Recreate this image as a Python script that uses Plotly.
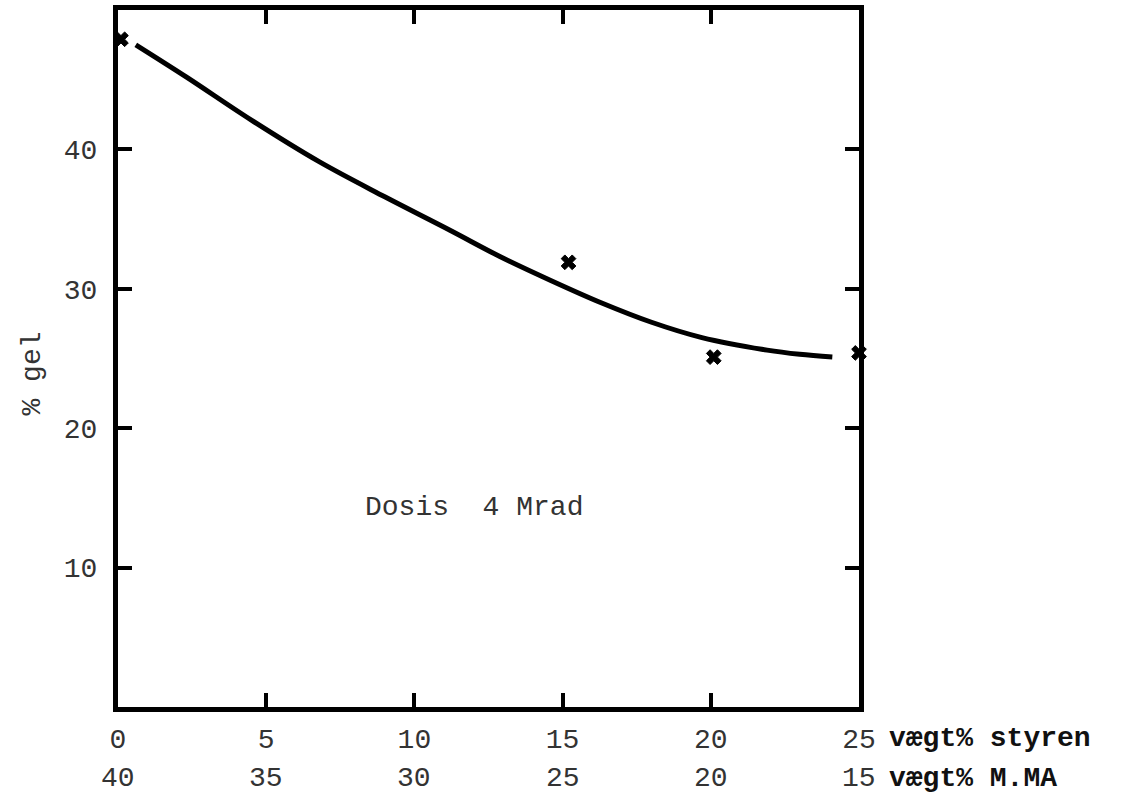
import plotly.graph_objects as go

# measured points (x = wt% styrene, y = % gel)
styren_pts = [0.1, 15.2, 20.1, 25.0]
gel_pts = [47.9, 31.9, 25.1, 25.4]

# hand-drawn curve
curve_x = [0.6, 2.3, 4.5, 6.8, 9.0, 11.2, 12.9, 14.6, 16.3, 18.0, 19.7, 21.9, 23.0, 24.1]
curve_y = [47.5, 45.2, 42.1, 39.1, 36.6, 34.2, 32.3, 30.6, 29.0, 27.6, 26.5, 25.6, 25.3, 25.1]

styren_ticks = [0, 5, 10, 15, 20, 25]
mma_labels = ["40", "35", "30", "25", "20", "15"]
gel_ticks = [10, 20, 30, 40]

FONT = "Liberation Mono"
INK = "#111111"
GREY = "#333333"
FS = 28

fig = go.Figure()
fig.add_trace(go.Scatter(x=curve_x, y=curve_y, mode="lines",
                         line=dict(color="black", width=5, shape="spline", smoothing=1.0),
                         showlegend=False, hoverinfo="skip"))
fig.add_trace(go.Scatter(x=styren_pts, y=gel_pts, mode="markers",
                         marker=dict(symbol="x", size=13, color="black",
                                     line=dict(width=1, color="black")),
                         showlegend=False, cliponaxis=False))

fig.update_layout(
    width=1131, height=799,
    margin=dict(l=118, r=272, t=10, b=92, autoexpand=False),
    plot_bgcolor="white", paper_bgcolor="white",
    font=dict(family=FONT, size=FS, color=GREY),
    xaxis=dict(range=[0, 25], tickvals=styren_ticks,
               ticktext=[str(v) for v in styren_ticks],
               ticks="inside", ticklen=14, tickwidth=4, tickcolor="black",
               showline=True, linewidth=5, linecolor="black", mirror="ticks",
               showgrid=False, zeroline=False, ticklabelstandoff=2,
               tickfont=dict(family=FONT, size=FS, color=GREY)),
    yaxis=dict(range=[0, 50], tickvals=gel_ticks,
               ticks="inside", ticklen=14, tickwidth=4, tickcolor="black",
               showline=True, linewidth=5, linecolor="black", mirror="ticks",
               showgrid=False, zeroline=False, ticklabelstandoff=10,
               tickfont=dict(family=FONT, size=FS, color=GREY)),
)

# second x scale row (wt% MMA)
for xv, lab in zip(styren_ticks, mma_labels):
    fig.add_annotation(x=xv, y=0, xref="x", yref="paper", text=lab,
                       showarrow=False, yanchor="middle", yshift=-71,
                       font=dict(family=FONT, size=FS, color=GREY))

fig.add_annotation(x=25, y=0, xref="x", yref="paper", text="<b>vægt% styren</b>",
                   showarrow=False, xanchor="left", yanchor="middle", xshift=28, yshift=-31,
                   font=dict(family=FONT, size=FS, color=INK))
fig.add_annotation(x=25, y=0, xref="x", yref="paper", text="<b>vægt% M.MA</b>",
                   showarrow=False, xanchor="left", yanchor="middle", xshift=28, yshift=-71,
                   font=dict(family=FONT, size=FS, color=INK))

fig.add_annotation(x=0, y=0.5, xref="paper", yref="paper", text="% gel",
                   textangle=-90, showarrow=False, xanchor="center", yanchor="middle",
                   xshift=-86, yshift=-15,
                   font=dict(family=FONT, size=FS, color=GREY))

fig.add_annotation(x=12.0, y=14.3, xref="x", yref="y", text="Dosis  4 Mrad",
                   showarrow=False, xanchor="center", yanchor="middle",
                   font=dict(family=FONT, size=FS, color=GREY))

fig.write_html("out.html", config={"displayModeBar": False},
               post_script="document.body.style.margin='0';document.body.style.overflow='hidden';")
